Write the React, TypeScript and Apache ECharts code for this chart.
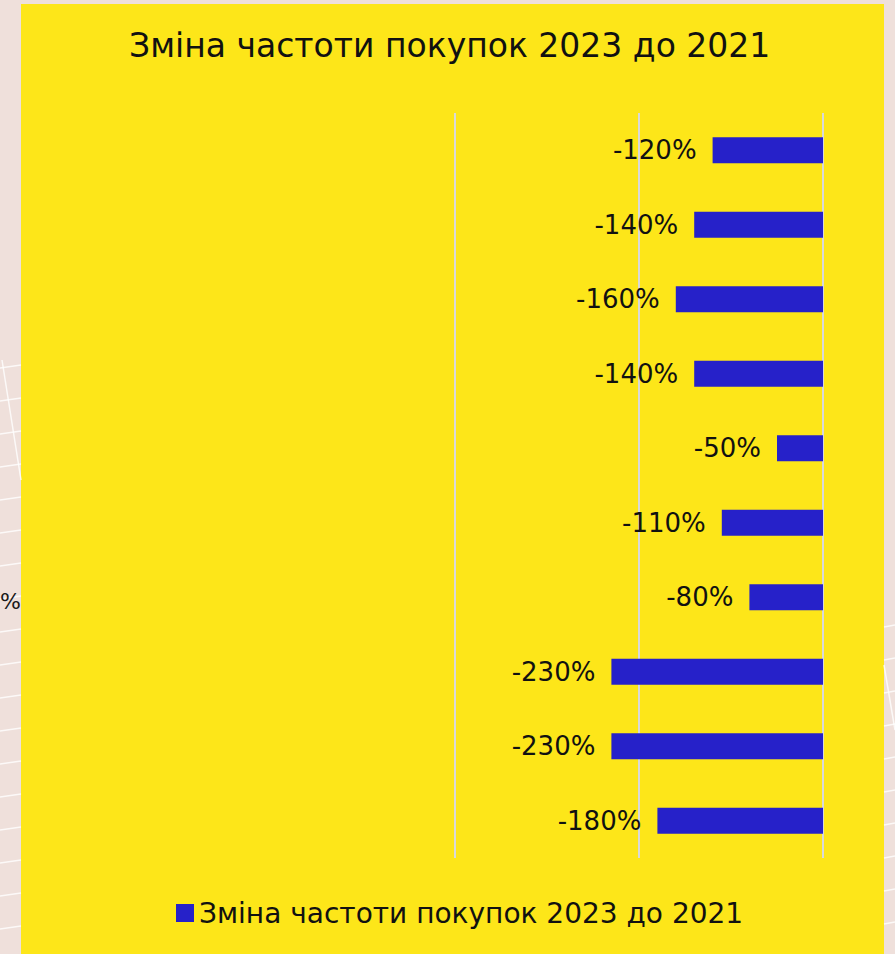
import React, { useEffect, useRef } from "react";
import * as echarts from "echarts";

const TITLE = "Зміна частоти покупок 2023 до 2021";
const SERIES_NAME = "Зміна частоти покупок 2023 до 2021";
const categories = ["1", "2", "3", "4", "5", "6", "7", "8", "9", "10"];
const values = [-120, -140, -160, -140, -50, -110, -80, -230, -230, -180];

const FONT = "'DejaVu Sans', sans-serif";

export default function App() {
  const ref = useRef<HTMLDivElement>(null);
  useEffect(() => {
    document.body.style.margin = "0";
    const chart = echarts.init(ref.current!, undefined, { renderer: "svg" });
    const deco: any[] = [];
    for (let y = 365; y < 954; y += 33) {
      deco.push({ type: "line", z: -99, shape: { x1: 0, y1: y + 3, x2: 21, y2: y }, style: { stroke: "#ffffff", lineWidth: 1.5, opacity: 0.8 } });
    }
    for (let y = 625; y < 954; y += 33) {
      deco.push({ type: "line", z: -99, shape: { x1: 884, y1: y + 2, x2: 895, y2: y }, style: { stroke: "#ffffff", lineWidth: 1.5, opacity: 0.8 } });
    }
    deco.push({ type: "line", z: -99, shape: { x1: 2, y1: 360, x2: 21, y2: 480 }, style: { stroke: "#ffffff", lineWidth: 1.5, opacity: 0.8 } });
    deco.push({ type: "line", z: -99, shape: { x1: 884, y1: 665, x2: 895, y2: 730 }, style: { stroke: "#ffffff", lineWidth: 1.5, opacity: 0.8 } });
    chart.setOption({
      animation: false,
      backgroundColor: "#efe0db",
      graphic: [
        ...deco,
        { type: "rect", z: -100, shape: { x: 21, y: 4, width: 863, height: 960 }, style: { fill: "#fde619" } },
        { type: "text", x: 0, y: 601, style: { text: "%", fontSize: 22, fontFamily: FONT, fill: "#1a1a1a", verticalAlign: "middle" } },
      ],
      title: {
        text: TITLE,
        left: 124,
        top: 24,
        textStyle: { fontSize: 33, fontWeight: "normal", color: "#111111", fontFamily: FONT },
      },
      legend: {
        left: 171,
        top: 894,
        itemWidth: 18,
        itemHeight: 18,
        icon: "rect",
        itemGap: 6,
        textStyle: { fontSize: 28, color: "#111111", fontFamily: FONT },
        data: [SERIES_NAME],
      },
      grid: { left: 455, right: 72, top: 113, bottom: 96, containLabel: false },
      xAxis: {
        type: "value",
        min: -400,
        max: 0,
        interval: 200,
        axisLabel: { show: false },
        axisLine: { show: false },
        axisTick: { show: false },
        splitLine: { show: true, lineStyle: { color: "#d9d9d9", width: 2 } },
      },
      yAxis: {
        type: "category",
        data: categories,
        inverse: true,
        axisLabel: { show: false },
        axisLine: { show: false },
        axisTick: { show: false },
      },
      series: [
        {
          name: SERIES_NAME,
          type: "bar",
          data: values,
          barWidth: 26,
          itemStyle: { color: "#2621c9" },
          label: {
            show: true,
            position: "left",
            distance: 16,
            formatter: (p: any) => `${p.value}%`,
            fontSize: 26,
            color: "#111111",
            fontFamily: FONT,
          },
        },
      ],
    });
    return () => chart.dispose();
  }, []);
  return <div ref={ref} style={{ width: 895, height: 954 }} />;
}
